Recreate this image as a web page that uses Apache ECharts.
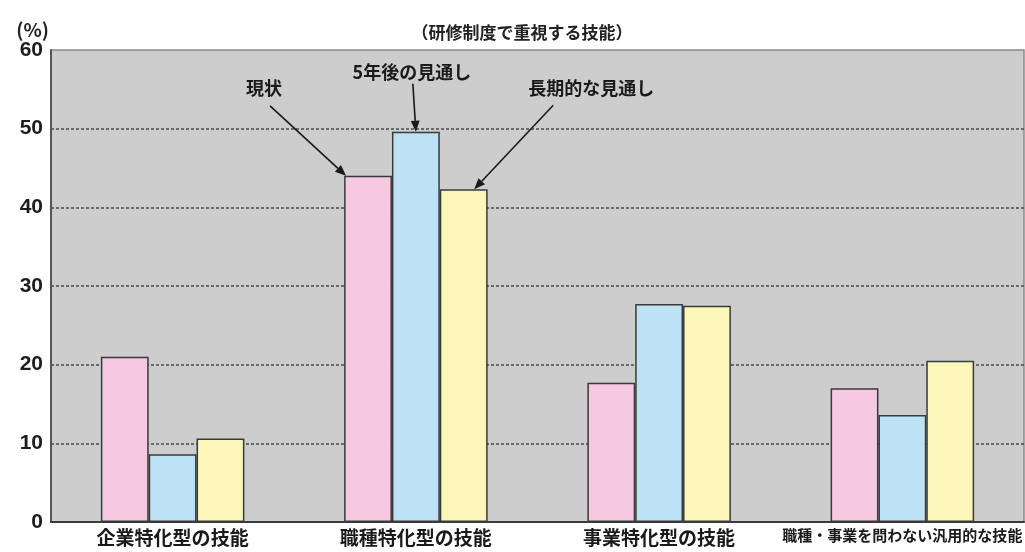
<!DOCTYPE html>
<html>
<head>
<meta charset="utf-8">
<script src="https://cdn.jsdelivr.net/npm/echarts@6/dist/echarts.min.js"></script>
<style>
  html, body { margin: 0; padding: 0; background: #ffffff; }
  #chart { width: 1025px; height: 552px; }
</style>
</head>
<body>
<div id="chart"></div>
<script>
// 研修制度で重視する技能（%）
const categories = ['企業特化型の技能', '職種特化型の技能', '事業特化型の技能', '職種・事業を問わない汎用的な技能'];
const seriesNames = ['現状', '5年後の見通し', '長期的な見通し'];
const currentValues = [21.0, 44.0, 17.7, 17.0];
const fiveYearValues = [8.6, 49.6, 27.7, 13.6];
const longTermValues = [10.6, 42.3, 27.5, 20.5];
const yTicks = [0, 10, 20, 30, 40, 50, 60];

const barColors = ['#f6c8e2', '#bde2f6', '#fbf7bb'];
const FONT = '"Noto Sans CJK JP", "Liberation Sans", sans-serif';

const chart = echarts.init(document.getElementById('chart'), null, { renderer: 'canvas' });

function barSeries(name, values, color) {
  return {
    name: name,
    type: 'bar',
    data: values,
    barGap: '0%',
    barCategoryGap: '41%',
    itemStyle: { color: color, borderColor: '#3a3a3a', borderWidth: 1.5 },
    emphasis: { disabled: true }
  };
}

chart.setOption({
  animation: false,
  backgroundColor: '#ffffff',
  grid: {
    left: 51, top: 50, width: 976, height: 472,
    show: true, backgroundColor: '#cdcdcd', borderColor: '#8a8a8a', borderWidth: 1.5
  },
  title: {
    text: '（研修制度で重視する技能）',
    left: 517, top: 19, textAlign: 'center',
    textStyle: { fontFamily: FONT, fontSize: 17, fontWeight: 'bold', color: '#222' }
  },
  xAxis: {
    type: 'category',
    data: categories,
    axisLine: { show: true, lineStyle: { color: '#3a3a3a', width: 2 } },
    axisTick: { show: false },
    axisLabel: {
      interval: 0, margin: 6,
      formatter: function (v, i) { return i === 3 ? '{s|' + v + '}' : '{b|' + v + '}'; },
      rich: {
        b: { fontFamily: FONT, fontSize: 19, fontWeight: 'bold', color: '#1a1a1a' },
        s: { fontFamily: FONT, fontSize: 15, fontWeight: 'bold', color: '#1a1a1a' }
      }
    }
  },
  yAxis: {
    type: 'value',
    min: yTicks[0], max: yTicks[yTicks.length - 1], interval: 10,
    name: '(%)',
    nameLocation: 'end',
    nameGap: 10,
    nameTextStyle: { fontFamily: FONT, fontSize: 19, fontWeight: 'bold', color: '#222', align: 'right', padding: [0, 2, 0, 0] },
    axisLine: { show: true, lineStyle: { color: '#555', width: 2 } },
    axisTick: { show: false },
    axisLabel: {
      margin: 8,
      fontFamily: '"Liberation Sans", Arial, sans-serif', fontSize: 21, fontWeight: 'bold', color: '#1e1e1e'
    },
    splitLine: {
      show: true, showMaxLine: false,
      lineStyle: { color: '#4a4a4a', type: [3, 2], width: 1.5 }
    }
  },
  series: [
    barSeries(seriesNames[0], currentValues, barColors[0]),
    barSeries(seriesNames[1], fiveYearValues, barColors[1]),
    barSeries(seriesNames[2], longTermValues, barColors[2])
  ]
});

// Layout of a bar (x, y, width, height) as laid out by the bar series
function barLayout(seriesIndex, dataIndex) {
  const model = chart.getModel().getSeriesByIndex(seriesIndex);
  return model.getData().getItemLayout(dataIndex);
}

function barTop(seriesIndex, dataIndex, frac) {
  const l = barLayout(seriesIndex, dataIndex);
  const top = Math.min(l.y, l.y + l.height);
  return [l.x + l.width * frac, top];
}

function arrow(tail, tip) {
  const dx = tip[0] - tail[0], dy = tip[1] - tail[1];
  const len = Math.sqrt(dx * dx + dy * dy);
  const ux = dx / len, uy = dy / len;
  const hl = 11, hw = 4.5;
  const bx = tip[0] - ux * hl, by = tip[1] - uy * hl;
  return [
    { type: 'line', silent: true, z: 100,
      shape: { x1: tail[0], y1: tail[1], x2: bx, y2: by },
      style: { stroke: '#1a1a1a', lineWidth: 1.6 } },
    { type: 'polygon', silent: true, z: 100,
      shape: { points: [tip, [bx - uy * hw, by + ux * hw], [bx + uy * hw, by - ux * hw]] },
      style: { fill: '#1a1a1a' } }
  ];
}

function label(text, x, y) {
  return {
    type: 'text', silent: true, z: 100, x: x, y: y,
    style: {
      text: text, fill: '#1a1a1a', font: 'bold 18px ' + FONT,
      textAlign: 'center', textVerticalAlign: 'middle'
    }
  };
}

// Callouts naming each series, pointing at the 職種特化型 bars
const k = 1;
const tipCur = barTop(0, k, 0.04);
const tipFive = barTop(1, k, 0.5);
const tipLong = barTop(2, k, 0.72);
const tailCur = [tipCur[0] - 76, tipCur[1] - 70];
const tailFive = [tipFive[0] - 3, tipFive[1] - 48];
const tailLong = [tipLong[0] + 79, tipLong[1] - 84];

chart.setOption({
  graphic: [].concat(
    arrow(tailCur, tipCur),
    arrow(tailFive, tipFive),
    arrow(tailLong, tipLong),
    [
      label(seriesNames[0], tailCur[0] - 6, tailCur[1] - 18),
      label(seriesNames[1], tailFive[0] - 1, tailFive[1] - 12),
      label(seriesNames[2], tailLong[0] + 38, tailLong[1] - 17)
    ]
  )
});
</script>
</body>
</html>
